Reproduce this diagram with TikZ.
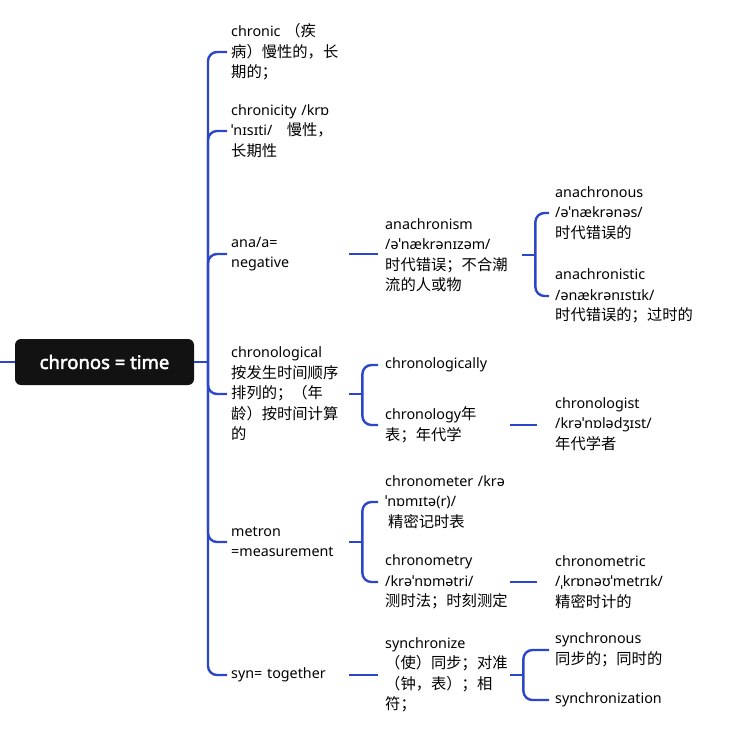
\documentclass[tikz,border=0pt]{standalone}
\usepackage{fontspec}
\setmainfont{Noto Sans}
\newfontfamily\rootfont[FakeBold=2.5]{Noto Sans}
\newfontfamily\cjk[Scale=1.07]{Noto Sans CJK SC}
\newcommand{\zh}[1]{{\cjk #1}}
\definecolor{linkblue}{RGB}{44,70,200}
\tikzset{
  link/.style={draw=linkblue, line width=2.4pt, rounded corners=9pt},
  leaf/.style={anchor=west, align=left, inner ysep=2pt, font=\fontsize{14.3}{20.5}\selectfont},
  lvlone/.style={leaf, inner xsep=4pt, text width=114pt},
  lvltwo/.style={leaf, inner xsep=7pt, text width=118pt},
  lvlthree/.style={leaf, inner xsep=6pt},
}
\begin{document}
\begin{tikzpicture}[x=1pt,y=-1pt]
    \useasboundingbox (0,0) rectangle (747,729);

    % Root
    \node[fill=black!93, text=white, rounded corners=6pt, minimum width=179pt,
      minimum height=46pt, font=\fontsize{18.5}{20}\rootfont] (root) at (104.5,362) {chronos = time};
    \coordinate (stub) at (0,362);
    \coordinate (trunk) at (208,362);
    \draw[link] (stub) -- (root.west);
    \draw[link] (root.east) -- (trunk);

    % First level
    \node[lvlone] (chronic) at (227,52) {chronic \zh{（疾}\\\zh{病）慢性的，长}\\\zh{期的；}};
    \node[lvlone] (chronicity) at (227,131) {chronicity~/krɒ\\ˈnɪsɪti/\quad\zh{慢性，}\\\zh{长期性}};
    \node[lvlone] (ana) at (227,254) {ana/a=\\negative};
    \node[lvlone] (chronological) at (227,394) {chronological\\\zh{按发生时间顺序}\\\zh{排列的；（年}\\\zh{龄）按时间计算}\\\zh{的}};
    \node[lvlone] (metron) at (227,542) {metron\\=measurement};
    \node[lvlone] (syn) at (227,675) {syn= together};
    \foreach \n in {chronic,chronicity,ana,chronological,metron,syn}
      \draw[link] (trunk) |- (\n.west);

    % Second level
    \node[lvltwo, text width=130pt] (anachronism) at (378,255) {anachronism\\/əˈnækrənɪzəm/\\\zh{时代错误；不合潮}\\\zh{流的人或物}};
    \node[lvltwo] (chronologically) at (378,365) {chronologically};
    \node[lvltwo] (chronology) at (378,425) {chronology\zh{年}\\\zh{表；年代学}};
    \node[lvltwo] (chronometer) at (378,502) {chronometer~/krə\\ˈnɒmɪtə(r)/\\\hspace*{3pt}\zh{精密记时表}};
    \node[lvltwo] (chronometry) at (378,582) {chronometry\\/krəˈnɒmətri/\\\zh{测时法；时刻测定}};
    \node[lvltwo] (synchronize) at (378,675) {synchronize\\\zh{（使）同步；对准}\\\zh{（钟，表）；相}\\\zh{符；}};

    \draw[link] (ana.east) -- (ana.east -| anachronism.west);
    \draw[link] (syn.east) -- (syn.east -| synchronize.west);
    \coordinate (chronological-fork) at ([xshift=13pt]chronological.east);
    \draw[link] (chronological.east) -- (chronological-fork);
    \foreach \n in {chronologically,chronology}
      \draw[link] (chronological-fork) |- (\n.west);
    \coordinate (metron-fork) at ([xshift=13pt]metron.east);
    \draw[link] (metron.east) -- (metron-fork);
    \foreach \n in {chronometer,chronometry}
      \draw[link] (metron-fork) |- (\n.west);

    % Third level
    \node[lvlthree] (anachronous) at (549,213) {anachronous\\/əˈnækrənəs/\\\zh{时代错误的}};
    \node[lvlthree] (anachronistic) at (549,296) {anachronistic\\/ənækrənɪstɪk/\\\zh{时代错误的；过时的}};
    \node[lvlthree] (chronologist) at (549,424) {chronologist\\/krəˈnɒlədʒɪst/\\\zh{年代学者}};
    \node[lvlthree] (chronometric) at (549,582) {chronometric\\/ˌkrɒnəʊˈmetrɪk/\\\zh{精密时计的}};
    \node[lvlthree] (synchronous) at (549,650) {synchronous\\\zh{同步的；同时的}};
    \node[lvlthree] (synchronization) at (549,700) {synchronization};

    \coordinate (anachronism-fork) at ([xshift=13pt]anachronism.east);
    \draw[link] (anachronism.east) -- (anachronism-fork);
    \foreach \n in {anachronous,anachronistic}
      \draw[link] (anachronism-fork) |- (\n.west);
    \draw[link, shorten >=12pt] (chronology.east) -- (chronology.east -| chronologist.west);
    \draw[link, shorten >=12pt] (chronometry.east) -- (chronometry.east -| chronometric.west);
    \coordinate (synchronize-fork) at ([xshift=13pt]synchronize.east);
    \draw[link] (synchronize.east) -- (synchronize-fork);
    \foreach \n in {synchronous,synchronization}
      \draw[link] (synchronize-fork) |- (\n.west);
\end{tikzpicture}
\end{document}
